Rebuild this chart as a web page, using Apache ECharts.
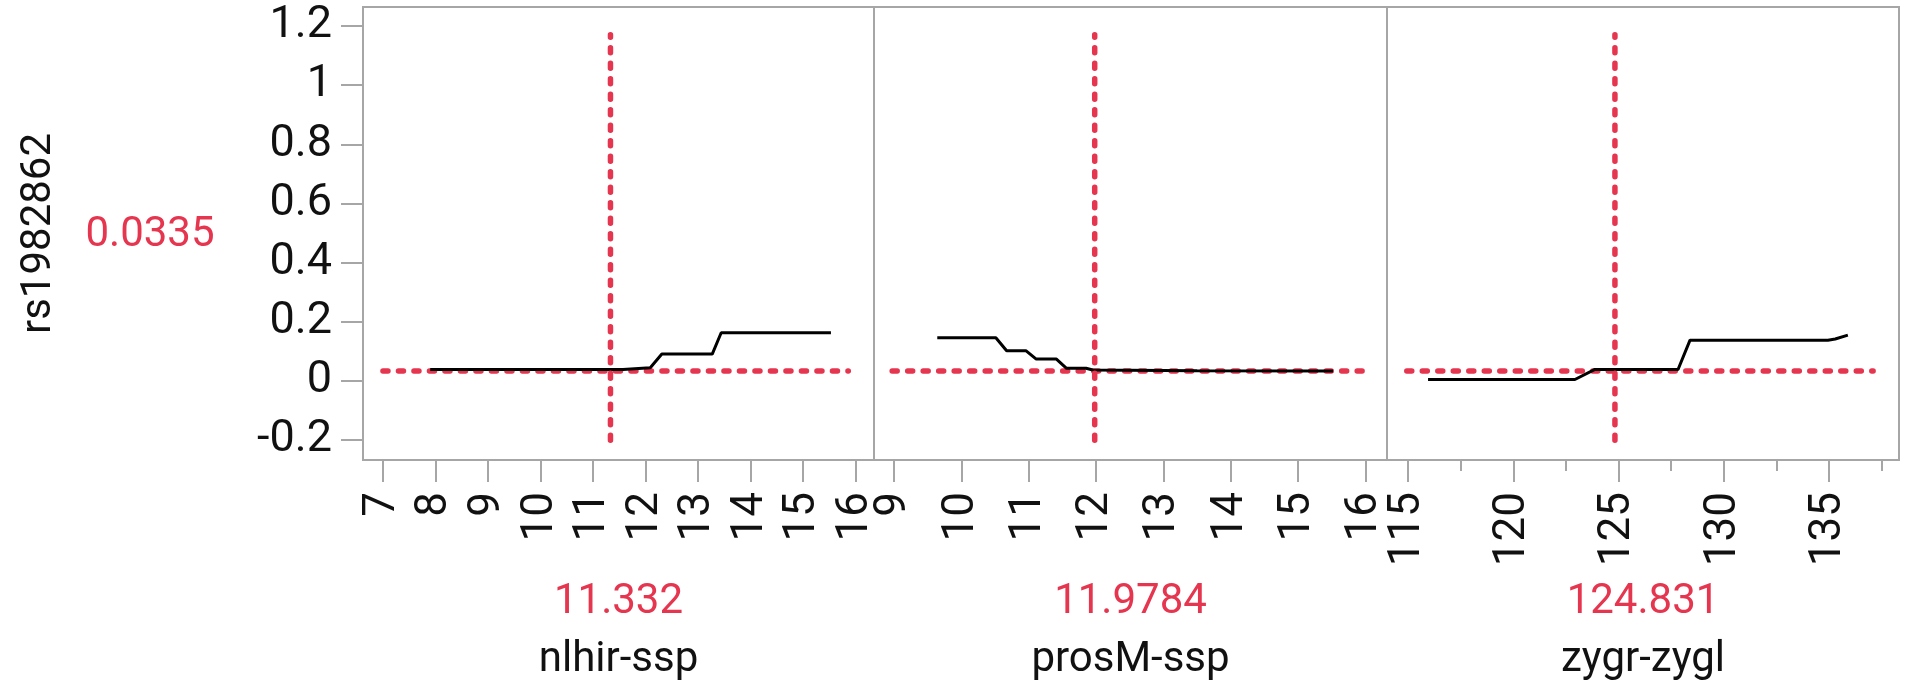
<!DOCTYPE html>
<html>
<head>
<meta charset="utf-8">
<script src="https://cdn.jsdelivr.net/npm/echarts@6/dist/echarts.min.js"></script>
<style>
  html, body { margin: 0; padding: 0; background: #fff; }
  #main { width: 1911px; height: 696px; }
</style>
</head>
<body>
<div id="main"></div>
<script>
// response + current setting
var yName = 'rs1982862';
var yCurrent = 0.0335;
var yCurrentLabel = '0.0335';
var yRange = [-0.267, 1.264];
var yTicks = [-0.2, 0, 0.2, 0.4, 0.6, 0.8, 1, 1.2];

// factors
var factorNames = ['nlhir-ssp', 'prosM-ssp', 'zygr-zygl'];
var factorCurrent = [11.332, 11.9784, 124.831];
var factorCurrentLabels = ['11.332', '11.9784', '124.831'];
var xRanges = [[6.62, 16.35], [8.7, 16.32], [114.0, 138.33]];
var xTicks = [
  [7, 8, 9, 10, 11, 12, 13, 14, 15, 16],
  [9, 10, 11, 12, 13, 14, 15, 16],
  [115, 120, 125, 130, 135]
];
var xMinorTicks3 = [117.5, 122.5, 127.5, 132.5, 137.5];

// profile curves
var curve1 = [[7.9, 0.039], [11.57, 0.039], [11.6, 0.045], [12.09, 0.045], [12.31, 0.091],
  [13.27, 0.091], [13.44, 0.163], [15.53, 0.163]];
var curve2 = [[9.64, 0.146], [10.51, 0.146], [10.67, 0.102], [10.96, 0.102], [11.11, 0.074],
  [11.41, 0.074], [11.56, 0.043], [11.85, 0.043], [11.95, 0.037], [13.5, 0.035], [15.52, 0.034]];
var curve3 = [[115.95, 0.005], [122.93, 0.005], [123.88, 0.039], [127.83, 0.039], [128.4, 0.138],
  [134.95, 0.138], [135.3, 0.142], [135.9, 0.155]];
var curves = [curve1, curve2, curve3];

// extent of the red reference lines
var hSpans = [[7, 15.86], [8.97, 15.95], [114.94, 137.1]];
var vSpan = [-0.2, 1.17];

var RED = '#e5354f';
var GRAY = '#a6a6a6';
var FONT = 'Roboto';

var chart = echarts.init(document.getElementById('main'));

var panelLeft = [363, 874, 1387];
var panelWidth = [511, 513, 512];

var grids = [], xAxes = [], yAxes = [], series = [];
for (var i = 0; i < 3; i++) {
  grids.push({
    left: panelLeft[i], top: 7, width: panelWidth[i], height: 453,
    show: true, borderColor: GRAY, borderWidth: 2, backgroundColor: '#fff'
  });
  xAxes.push({
    type: 'value', gridIndex: i, position: 'bottom',
    min: xRanges[i][0], max: xRanges[i][1],
    axisLine: { show: false, onZero: false },
    splitLine: { show: false },
    axisTick: { show: true, length: 22, lineStyle: { color: GRAY, width: 2 }, customValues: xTicks[i] },
    axisLabel: { rotate: 90, margin: 32, fontSize: 44, fontFamily: FONT, color: '#111', customValues: xTicks[i] },
    name: '{v|' + factorCurrentLabels[i] + '}\n{n|' + factorNames[i] + '}',
    nameLocation: 'middle', nameGap: 115, nameMoveOverlap: false,
    nameTextStyle: {
      rich: {
        v: { color: RED, fontSize: 42, fontFamily: FONT, lineHeight: 54 },
        n: { color: '#111', fontSize: 42, fontFamily: FONT, lineHeight: 62 }
      }
    }
  });
  yAxes.push({
    type: 'value', gridIndex: i, position: 'left',
    min: yRange[0], max: yRange[1],
    show: i === 0,
    axisLine: { show: false, onZero: false },
    splitLine: { show: false },
    axisTick: { show: true, length: 22, lineStyle: { color: GRAY, width: 2 }, customValues: yTicks },
    axisLabel: { margin: 31, fontSize: 45, fontFamily: FONT, color: '#111', customValues: yTicks },
    name: i === 0 ? yName : '',
    nameLocation: 'middle', nameGap: 303, nameRotate: 90, nameMoveOverlap: false,
    nameTextStyle: { color: '#111', fontSize: 42, fontFamily: FONT }
  });

  // horizontal reference at current response
  series.push({
    type: 'line', xAxisIndex: i, yAxisIndex: i, showSymbol: false, silent: true, z: 2,
    data: [[hSpans[i][0], yCurrent], [hSpans[i][1], yCurrent]],
    lineStyle: { color: RED, width: 5.5, type: [5, 10.5], cap: 'round' }
  });
  // profile curve
  series.push({
    type: 'line', xAxisIndex: i, yAxisIndex: i, showSymbol: false, silent: true, z: 3,
    data: curves[i],
    lineStyle: { color: '#000', width: 3 }
  });
  // vertical reference at current factor value
  series.push({
    type: 'line', xAxisIndex: i, yAxisIndex: i, showSymbol: false, silent: true, z: 4,
    data: [[factorCurrent[i], vSpan[0]], [factorCurrent[i], vSpan[1]]],
    lineStyle: { color: RED, width: 5.5, type: [5, 10.5], cap: 'round' }
  });
}

// minor ticks on the last panel
xAxes.push({
  type: 'value', gridIndex: 2, position: 'bottom',
  min: xRanges[2][0], max: xRanges[2][1],
  axisLine: { show: false, onZero: false }, splitLine: { show: false },
  axisLabel: { show: false },
  axisTick: { show: true, length: 11, lineStyle: { color: GRAY, width: 2 }, customValues: xMinorTicks3 }
});

var option = {
  backgroundColor: '#fff',
  animation: false,
  grid: grids,
  xAxis: xAxes,
  yAxis: yAxes,
  series: series,
  graphic: [{
    type: 'text', x: 150, y: 235,
    style: { text: yCurrentLabel, fill: RED, font: '42px Roboto', textAlign: 'center', textVerticalAlign: 'middle' }
  }]
};

chart.setOption(option);
</script>
</body>
</html>
